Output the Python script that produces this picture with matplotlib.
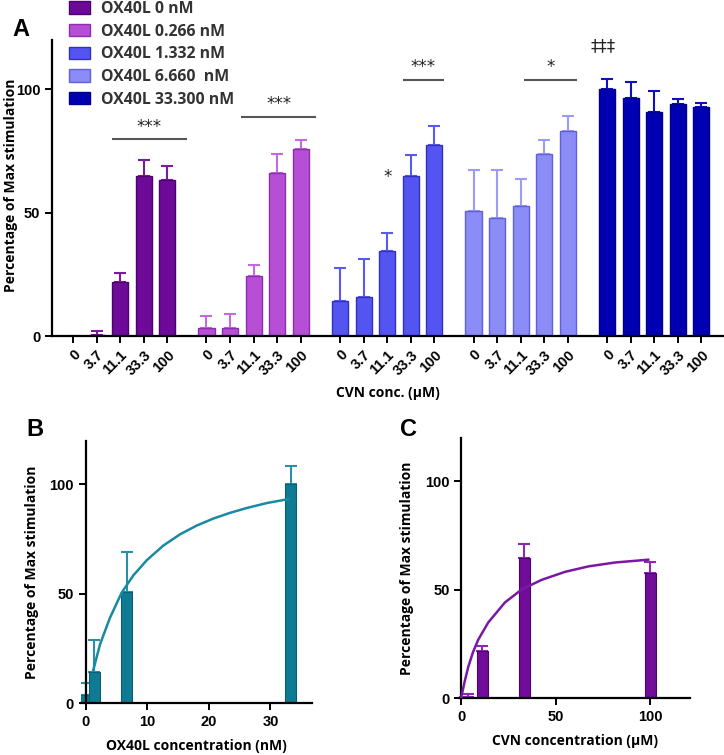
import numpy as np
import matplotlib
matplotlib.use('Agg')
import matplotlib.pyplot as plt

#  ---------------------------------------------------------  #
#  Data                                                       #
#  ---------------------------------------------------------  #
cvn_labels = ['0', '3.7', '11.1', '33.3', '100']
ox40l_labels = ['OX40L 0 nM', 'OX40L 0.266 nM', 'OX40L 1.332 nM',
                'OX40L 6.660  nM', 'OX40L 33.300 nM']

# mean and upper SD per OX40L group (percentage of max stimulation)
a_ox0 = [-0.8, 0.5, 22.0, 65.0, 63.3]
a_ox0_err = [0.6, 1.5, 3.7, 6.3, 5.7]
a_ox1 = [3.4, 3.4, 24.4, 66.1, 75.7]
a_ox1_err = [4.7, 5.4, 4.3, 7.7, 3.6]
a_ox2 = [14.0, 16.0, 34.3, 64.8, 77.6]
a_ox2_err = [13.6, 15.3, 7.3, 8.4, 7.4]
a_ox3 = [50.5, 47.8, 52.6, 73.7, 83.3]
a_ox3_err = [16.7, 19.4, 11.2, 5.6, 5.8]
a_ox4 = [100.0, 96.5, 91.0, 94.2, 93.0]
a_ox4_err = [4.3, 6.5, 8.5, 1.8, 1.6]

# panel B: OX40L alone
b_conc = [0, 1.332, 6.66, 33.3]
b_mean = [3.6, 14.4, 51.0, 100.0]
b_err = [5.5, 14.5, 18.2, 8.5]
b_fit_x = [1.2, 2.3, 3.9, 5.8, 7.7, 9.9, 12.6, 15.3, 18.0, 20.7, 23.4, 26.1, 29.4, 32.9]
b_fit_y = [15.2, 27.0, 39.0, 50.5, 58.4, 65.4, 72.1, 77.2, 81.2, 84.4, 87.0, 89.2, 91.5, 93.3]

# panel C: CVN alone
c_conc = [0, 3.7, 11.1, 33.3, 100]
c_mean = [-0.5, 0.5, 22.0, 64.9, 57.7]
c_err = [1.0, 1.5, 2.1, 6.3, 5.1]
c_fit_x = [0, 1.8, 3.7, 6.2, 9.0, 14.3, 23.1, 32.0, 42.5, 54.9, 67.2, 81.3, 98.9]
c_fit_y = [0.5, 7.8, 14.5, 21.3, 27.1, 35.0, 44.2, 50.2, 54.6, 58.3, 60.8, 62.6, 63.9]

#  ---------------------------------------------------------  #
#  Styles                                                     #
#  ---------------------------------------------------------  #
fill_cols = ['#6e0a98', '#b64fd6', '#5454f2', '#8c8cf7', '#0000b2']
edge_cols = ['#4e0070', '#8a2fae', '#3232b8', '#6060d8', '#00008a']
err_cols = ['#7a1aa2', '#c46ae2', '#5a5af2', '#9c9cf8', '#1010c0']
teal = '#0f7a93'
purple = '#6f0c98'

tick_font = {'family': 'Liberation Sans', 'weight': 'bold', 'size': 10.5}
lab_font = {'family': 'Open Sans', 'weight': 'bold', 'size': 10}

fig = plt.figure(figsize=(7.24, 7.55), dpi=100)


def style_axis(ax):
    for s in ['top', 'right']:
        ax.spines[s].set_visible(False)
    for s in ['left', 'bottom']:
        ax.spines[s].set_linewidth(1.6)
    ax.tick_params(width=1.4, length=5, direction='out')
    for lbl in ax.get_xticklabels() + ax.get_yticklabels():
        lbl.set_fontproperties(matplotlib.font_manager.FontProperties(**tick_font))


#  ---------------------------------------------------------  #
#  Panel A                                                    #
#  ---------------------------------------------------------  #
axA = fig.add_axes([52 / 724., 1 - 336 / 755., 1 - 52 / 724., (336 - 40) / 755.])
groups = [(a_ox0, a_ox0_err), (a_ox1, a_ox1_err), (a_ox2, a_ox2_err),
          (a_ox3, a_ox3_err), (a_ox4, a_ox4_err)]
gstep = 5.66
handles = []
all_pos = []
for g, (vals, errs) in enumerate(groups):
    pos = np.arange(len(vals)) + g * gstep
    all_pos.extend(pos)
    bc = axA.bar(pos, vals, width=0.68, color=fill_cols[g], edgecolor=edge_cols[g],
                 linewidth=1.0, label=ox40l_labels[g], zorder=2)
    handles.append(bc)
    axA.errorbar(pos, vals, yerr=[np.zeros(len(errs)), errs], fmt='none',
                 ecolor=err_cols[g], elinewidth=1.5, capsize=4, capthick=1.5, zorder=1)

axA.set_xlim(-0.89, 27.6)
axA.set_ylim(0, 120)
axA.set_yticks([0, 50, 100])
axA.set_xticks(all_pos)
axA.set_xticklabels(cvn_labels * 5, rotation=45, ha='right', rotation_mode='anchor')
style_axis(axA)
axA.set_xlabel(u'CVN conc. (\u00b5M)', fontdict=lab_font, labelpad=6)
fig.text(11 / 724., 1 - 185 / 755., 'Percentage of Max stimulation', rotation=90,
         ha='center', va='center', **lab_font)

# significance marks
sig_lines = [(0, 1.65, 4.83, 79.7, '***'), (1, 1.48, 4.66, 88.9, '***'),
             (2, 2.67, 4.40, 103.8, '***'), (3, 2.16, 4.40, 103.8, '*')]
for g, x0, x1, yv, txt in sig_lines:
    axA.plot([g * gstep + x0, g * gstep + x1], [yv, yv], color='#555555', lw=1.5,
             solid_capstyle='butt', clip_on=False)
    axA.text(g * gstep + (x0 + x1) / 2., yv + 1.5, txt, ha='center', va='bottom',
             fontsize=12, color='#222222')
axA.text(2 * gstep + 2, 61, '*', ha='center', va='bottom', fontsize=12, color='#222222')
axA.text(4 * gstep - 0.15, 114, u'\u2021\u2021\u2021', ha='center', va='bottom',
         fontsize=12, color='#222222', clip_on=False)

fig.legend(handles=handles, labels=ox40l_labels, loc='upper left',
           bbox_to_anchor=(69 / 724., 1 - 1 / 755.), frameon=False, borderpad=0,
           borderaxespad=0, handlelength=1.35, handleheight=0.8, handletextpad=0.65,
           labelspacing=0.42, prop={'family': 'Open Sans', 'weight': 'bold', 'size': 11.4},
           labelcolor='#333333')

fig.text(12 / 724., 1 - 30 / 755., 'A', fontsize=17, fontweight='bold',
         family='Liberation Sans', va='center', ha='left')

#  ---------------------------------------------------------  #
#  Panel B                                                    #
#  ---------------------------------------------------------  #
axB = fig.add_axes([81 / 724., 1 - 703.3 / 755., 230.6 / 724., (703.3 - 440.7) / 755.])
axB.bar(b_conc, b_mean, width=1.8, color=teal, edgecolor='#0a5f73', linewidth=0.8, zorder=2)
axB.errorbar(b_conc, b_mean, yerr=[np.zeros(len(b_err)), b_err], fmt='none',
             ecolor='#2a8ea6', elinewidth=1.5, capsize=4, capthick=1.5, zorder=1)
axB.plot(b_fit_x, b_fit_y, color='#1a8aa2', lw=1.8, zorder=3)
axB.set_xlim(-0.8, 36.7)
axB.set_ylim(0, 120)
axB.spines['left'].set_position(('data', 0))
axB.set_xticks([0, 10, 20, 30])
axB.set_yticks([0, 50, 100])
style_axis(axB)
axB.set_xlabel('OX40L concentration (nM)', fontdict=lab_font, labelpad=7)
axB.set_ylabel('Percentage of Max stimulation', fontdict=lab_font, labelpad=8)
fig.text(26 / 724., 1 - 430 / 755., 'B', fontsize=17, fontweight='bold',
         family='Liberation Sans', va='center', ha='left')

#  ---------------------------------------------------------  #
#  Panel C                                                    #
#  ---------------------------------------------------------  #
axC = fig.add_axes([459.4 / 724., 1 - 698.3 / 755., 230.6 / 724., (698.3 - 438) / 755.])
axC.bar(c_conc, c_mean, width=6.0, color=purple, edgecolor='#4e0070', linewidth=0.8, zorder=2)
axC.errorbar(c_conc, c_mean, yerr=[np.zeros(len(c_err)), c_err], fmt='none',
             ecolor='#8a2ab0', elinewidth=1.5, capsize=4, capthick=1.5, zorder=1)
axC.plot(c_fit_x, c_fit_y, color='#7a18a6', lw=1.8, zorder=3)
axC.set_xlim(-1, 121)
axC.set_ylim(0, 120)
axC.spines['left'].set_position(('data', 0))
axC.set_xticks([0, 50, 100])
axC.set_yticks([0, 50, 100])
style_axis(axC)
axC.set_xlabel(u'CVN concentration (\u00b5M)', fontdict=lab_font, labelpad=7)
axC.set_ylabel('Percentage of Max stimulation', fontdict=lab_font, labelpad=8)
fig.text(400 / 724., 1 - 429 / 755., 'C', fontsize=17, fontweight='bold',
         family='Liberation Sans', va='center', ha='left')

plt.savefig('out.png', dpi=100)
